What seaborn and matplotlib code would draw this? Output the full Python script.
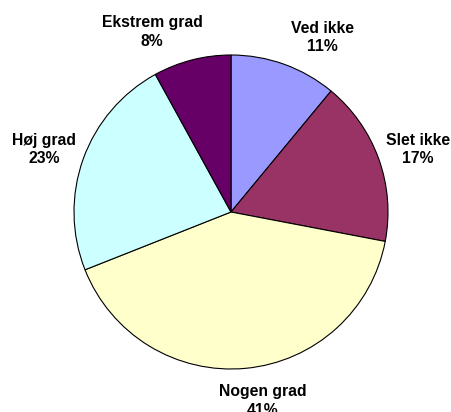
import matplotlib
matplotlib.use("Agg")
import matplotlib.pyplot as plt
import seaborn as sns

categories = ["Ved ikke", "Slet ikke", "Nogen grad", "Høj grad", "Ekstrem grad"]
values = [11, 17, 41, 23, 8]
colors = ["#9999FF", "#993366", "#FFFFCC", "#CCFFFF", "#660066"]
# label block centres (in pie-radius units)
label_pos = [(0.580, 1.111), (1.191, 0.398), (0.204, -1.205), (-1.191, 0.398), (-0.503, 1.146)]

sns.set_style("white")
plt.rcParams['font.family'] = ['Liberation Sans', 'DejaVu Sans']

W, H = 451, 412
fig = plt.figure(figsize=(W / 100, H / 100), dpi=100)
ax = fig.add_axes([0, 0, 1, 1])
cx, cy, r = 231, 212, 157

ax.pie(values, colors=colors, startangle=90, counterclock=False,
       wedgeprops=dict(edgecolor="black", linewidth=0.8), radius=1)
ax.set_aspect("equal")
ax.set_xlim(-cx / r, (W - cx) / r)
ax.set_ylim(-(H - cy) / r, cy / r)
ax.axis("off")

total = sum(values)
for cat, v, (x, y) in zip(categories, values, label_pos):
    ax.text(x, y, f"{cat}\n{round(100 * v / total)}%", ha="center", va="center",
            fontsize=11.3, fontweight="bold", linespacing=1.3, color="black")

fig.savefig("out.png", dpi=100)
